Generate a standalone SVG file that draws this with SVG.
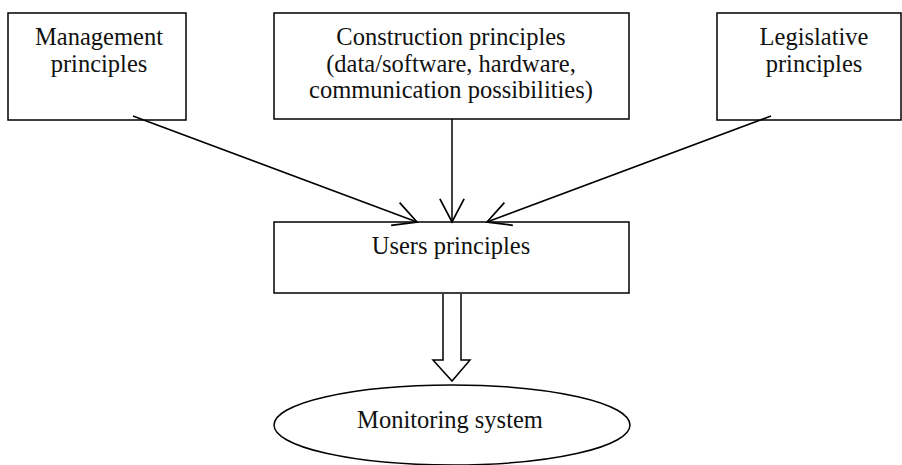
<svg xmlns="http://www.w3.org/2000/svg" width="902" height="465" viewBox="0 0 902 465">
  <style>
    .box { fill: #fff; stroke: #000; stroke-width: 1.5; }
    .lbl { font-family: "Liberation Serif", "Times New Roman", serif; font-size: 24.5px; fill: #111; text-anchor: middle; }
    .edge { fill: none; stroke: #000; stroke-width: 1.5; }
  </style>
  <defs>
    <marker id="openArrow" markerUnits="userSpaceOnUse" markerWidth="30" markerHeight="30" viewBox="-22 -12 26 24" refX="0" refY="0" orient="auto">
      <path d="M -20,-10.5 L 0,0 L -20,10.5" fill="none" stroke="#000" stroke-width="1.5"/>
    </marker>
  </defs>
  <rect width="902" height="465" fill="#fff"/>

  <g id="management">
    <rect class="box" x="8" y="13" width="178" height="107"/>
    <text class="lbl" x="99" y="45">Management</text>
    <text class="lbl" x="99" y="72">principles</text>
  </g>

  <g id="construction">
    <rect class="box" x="274" y="13" width="355" height="106"/>
    <text class="lbl" x="451" y="45">Construction principles</text>
    <text class="lbl" x="451" y="72">(data/software, hardware,</text>
    <text class="lbl" x="451" y="98">communication possibilities)</text>
  </g>

  <g id="legislative">
    <rect class="box" x="717" y="13" width="184" height="107"/>
    <text class="lbl" x="814" y="45">Legislative</text>
    <text class="lbl" x="814" y="72">principles</text>
  </g>

  <g id="users">
    <rect class="box" x="274" y="222" width="355" height="71"/>
    <text class="lbl" x="451" y="254">Users principles</text>
  </g>

  <g id="monitoring">
    <ellipse class="box" cx="452" cy="425" rx="178" ry="40"/>
    <text class="lbl" x="450" y="428">Monitoring system</text>
  </g>

  <g id="connectors">
    <line class="edge" x1="133" y1="116" x2="417" y2="222" marker-end="url(#openArrow)"/>
    <line class="edge" x1="452" y1="119" x2="452" y2="222" marker-end="url(#openArrow)"/>
    <line class="edge" x1="771" y1="116" x2="487" y2="222" marker-end="url(#openArrow)"/>
    <path class="edge" d="M 443,294 L 443,360 L 433,360 L 452,381 L 470,360 L 461,360 L 461,294" fill="#fff"/>
  </g>
</svg>
